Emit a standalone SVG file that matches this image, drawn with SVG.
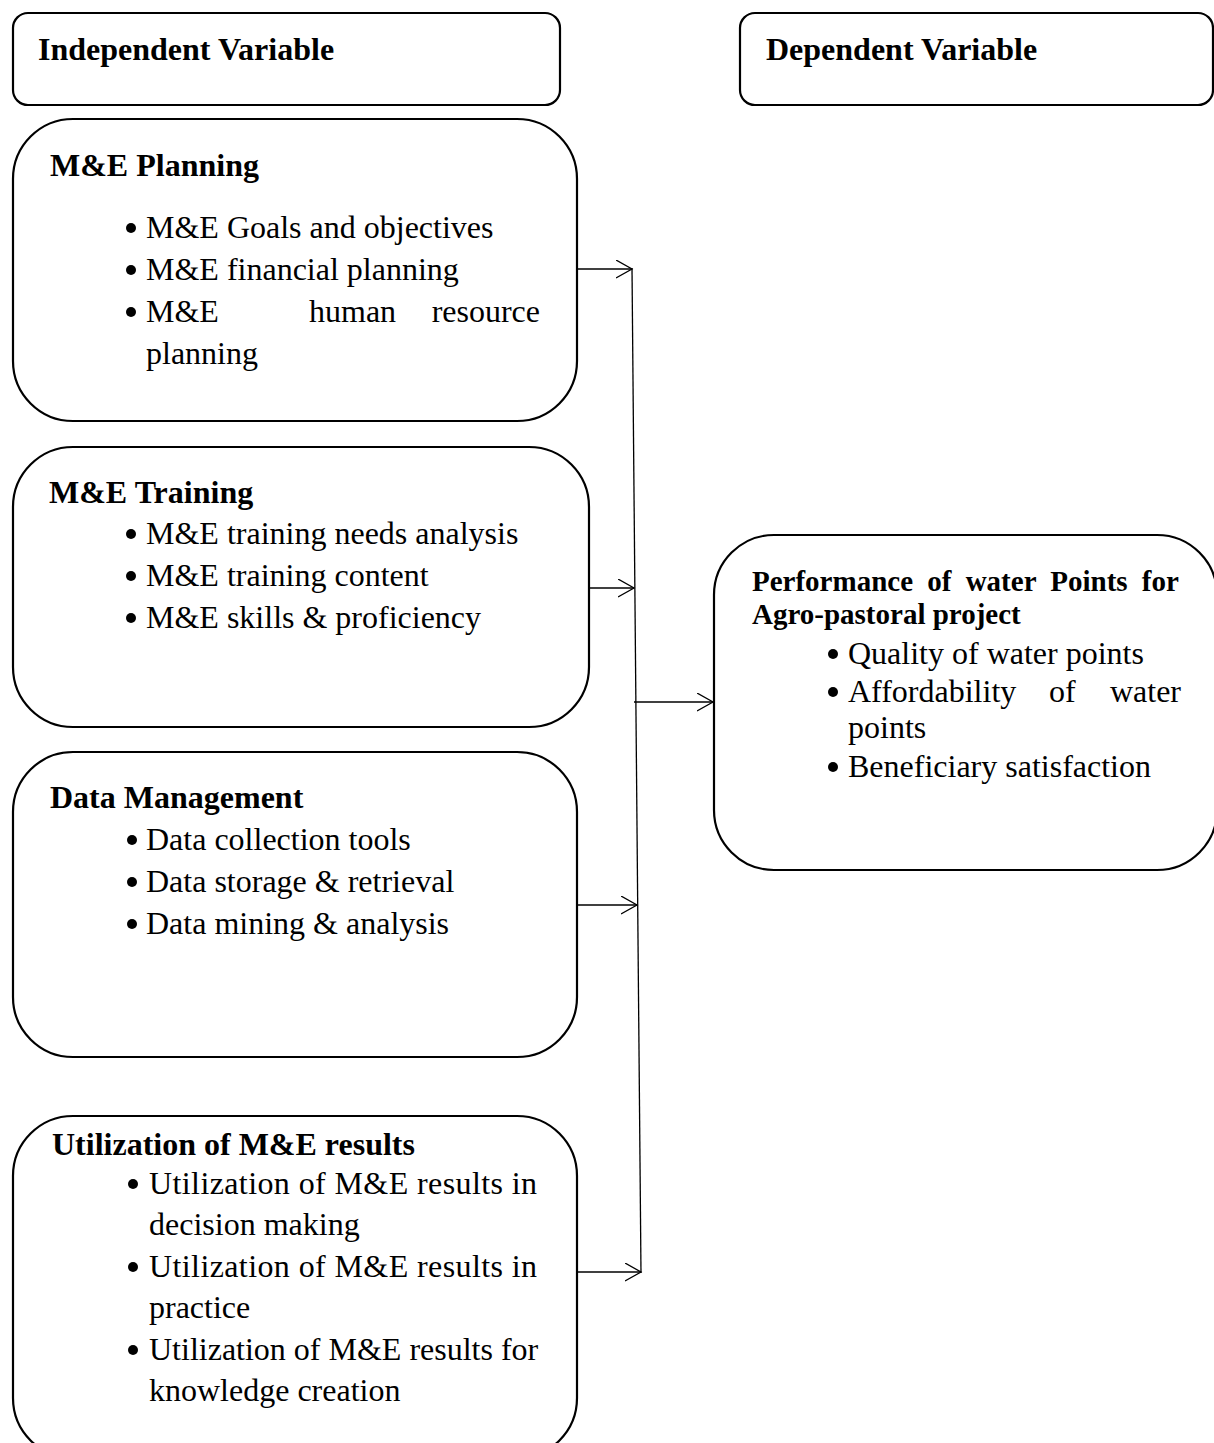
<svg xmlns="http://www.w3.org/2000/svg" width="1214" height="1443" viewBox="0 0 1214 1443">
<style>
.box{fill:#fff;stroke:#000;stroke-width:2.2}
.t{font-family:"Liberation Serif","Times New Roman",serif;font-size:32px;fill:#000}
.b{font-weight:bold}
.dot{fill:#000}
.con{stroke:#000;stroke-width:1.3;fill:none}
</style>
<defs>
<marker id="arr" markerWidth="20" markerHeight="20" refX="16" refY="9" orient="auto" markerUnits="userSpaceOnUse">
<path d="M0,0 L16,9 L0,18" fill="none" stroke="#000" stroke-width="1.3"/>
</marker>
</defs>
<rect width="1214" height="1443" fill="#fff"/>
<g id="independent-header">
<rect class="box" x="13" y="13" width="547" height="92" rx="15"/>
<text class="t b" x="38" y="60">Independent Variable</text>
</g>
<g id="dependent-header">
<rect class="box" x="740" y="13" width="473" height="92" rx="15"/>
<text class="t b" x="766" y="60">Dependent Variable</text>
</g>
<g id="me-planning">
<rect class="box" x="13" y="119" width="564" height="302" rx="60"/>
<text class="t b" x="50" y="176">M&amp;E Planning</text>
<circle class="dot" cx="131" cy="228" r="5"/>
<text class="t" x="146" y="238">M&amp;E Goals and objectives</text>
<circle class="dot" cx="131" cy="270" r="5"/>
<text class="t" x="146" y="280">M&amp;E financial planning</text>
<circle class="dot" cx="131" cy="312" r="5"/>
<text class="t" x="146" y="322">M&amp;E</text>
<text class="t" x="309" y="322">human</text>
<text class="t" x="540" y="322" text-anchor="end">resource</text>
<text class="t" x="146" y="364">planning</text>
</g>
<g id="me-training">
<rect class="box" x="13" y="447" width="576" height="280" rx="60"/>
<text class="t b" x="49" y="503">M&amp;E Training</text>
<circle class="dot" cx="131" cy="534" r="5"/>
<text class="t" x="146" y="544">M&amp;E training needs analysis</text>
<circle class="dot" cx="131" cy="576" r="5"/>
<text class="t" x="146" y="586">M&amp;E training content</text>
<circle class="dot" cx="131" cy="618" r="5"/>
<text class="t" x="146" y="628">M&amp;E skills &amp; proficiency</text>
</g>
<g id="data-management">
<rect class="box" x="13" y="752" width="564" height="305" rx="60"/>
<text class="t b" x="50" y="808">Data Management</text>
<circle class="dot" cx="132" cy="840" r="5"/>
<text class="t" x="146" y="850">Data collection tools</text>
<circle class="dot" cx="132" cy="882" r="5"/>
<text class="t" x="146" y="892">Data storage &amp; retrieval</text>
<circle class="dot" cx="132" cy="924" r="5"/>
<text class="t" x="146" y="934">Data mining &amp; analysis</text>
</g>
<g id="utilization">
<rect class="box" x="13" y="1116" width="564" height="342" rx="60"/>
<text class="t b" x="52" y="1155">Utilization of M&amp;E results</text>
<circle class="dot" cx="133" cy="1184" r="5"/>
<text class="t" x="149" y="1194" textLength="388" lengthAdjust="spacing">Utilization of M&amp;E results in</text>
<text class="t" x="149" y="1235">decision making</text>
<circle class="dot" cx="133" cy="1267" r="5"/>
<text class="t" x="149" y="1277" textLength="388" lengthAdjust="spacing">Utilization of M&amp;E results in</text>
<text class="t" x="149" y="1318">practice</text>
<circle class="dot" cx="133" cy="1350" r="5"/>
<text class="t" x="149" y="1360">Utilization of M&amp;E results for</text>
<text class="t" x="149" y="1401">knowledge creation</text>
</g>
<g id="performance">
<rect class="box" x="714" y="535" width="503" height="335" rx="60"/>
<text class="t b" x="752" y="591" style="font-size:29px" word-spacing="7">Performance of water Points for</text>
<text class="t b" x="752" y="624" style="font-size:29px">Agro-pastoral project</text>
<circle class="dot" cx="833" cy="654" r="5"/>
<text class="t" x="848" y="664">Quality of water points</text>
<circle class="dot" cx="833" cy="692" r="5"/>
<text class="t" x="848" y="702">Affordability</text>
<text class="t" x="1049" y="702">of</text>
<text class="t" x="1181" y="702" text-anchor="end">water</text>
<text class="t" x="848" y="738">points</text>
<circle class="dot" cx="833" cy="767" r="5"/>
<text class="t" x="848" y="777">Beneficiary satisfaction</text>
</g>
<g id="connectors">
<line class="con" x1="632" y1="268" x2="641" y2="1273"/>
<line class="con" x1="577" y1="269" x2="632" y2="269" marker-end="url(#arr)"/>
<line class="con" x1="589" y1="588" x2="634" y2="588" marker-end="url(#arr)"/>
<line class="con" x1="634" y1="702" x2="713" y2="702" marker-end="url(#arr)"/>
<line class="con" x1="577" y1="905" x2="637" y2="905" marker-end="url(#arr)"/>
<line class="con" x1="577" y1="1272" x2="641" y2="1272" marker-end="url(#arr)"/>
</g>
</svg>
